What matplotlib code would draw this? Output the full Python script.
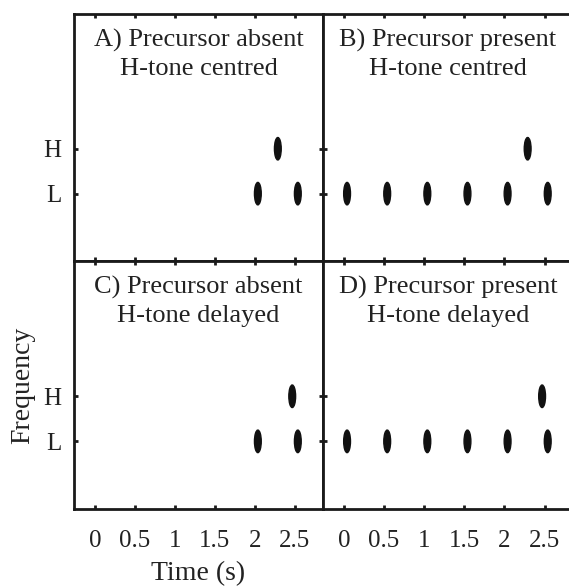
import matplotlib.pyplot as plt
from matplotlib.patches import Ellipse

plt.rcParams['font.family'] = ['Liberation Serif', 'DejaVu Serif']

# tone centres (s) for each panel
low_absent = [2.04, 2.54]
low_present = [0.04, 0.54, 1.04, 1.54, 2.04, 2.54]
high_centred = 2.29
high_delayed = 2.47

panels = [
    ('A) Precursor absent\nH-tone centred', low_absent, high_centred),
    ('B) Precursor present\nH-tone centred', low_present, high_centred),
    ('C) Precursor absent\nH-tone delayed', low_absent, high_delayed),
    ('D) Precursor present\nH-tone delayed', low_present, high_delayed),
]

xticks = [0, 0.5, 1, 1.5, 2, 2.5]
xticklabels = ['0', '0.5', '1', '1.5', '2', '2.5']
freq_levels = [1, 2]
freq_labels = ['L', 'H']

tone_dur = 0.085
tone_h = 0.5

W, H = 569, 588
fig = plt.figure(figsize=(W / 100, H / 100), dpi=100)

# axes boxes in pixels: left, top, right, bottom
boxes = [
    (74, 14, 323, 261), (323, 14, 573, 261),
    (74, 261, 323, 509), (323, 261, 573, 509),
]

for i, (title, lows, high) in enumerate(panels):
    l, t, r, b = boxes[i]
    ax = fig.add_axes([l / W, (H - b) / H, (r - l) / W, (b - t) / H])
    ax.set_xlim(-0.26, 2.855)
    ax.set_ylim(-0.5, 5)

    for x in lows:
        ax.add_patch(Ellipse((x, 1), tone_dur, tone_h, color='#111111'))
    ax.add_patch(Ellipse((high, 2), tone_dur, tone_h, color='#111111'))

    ax.text(0.5, 0.94, title, transform=ax.transAxes, ha='center', va='top',
            fontsize=19, color='#222222', linespacing=1.35)

    for s in ax.spines.values():
        s.set_linewidth(2.0)
        s.set_color('#1a1a1a')

    ax.set_xticks(xticks)
    ax.set_yticks(freq_levels)
    ax.tick_params(direction='in', length=3, width=2, top=True, right=True,
                   color='#1a1a1a', labelcolor='#222222', labelsize=18)
    ax.tick_params(axis='x', pad=15)
    ax.tick_params(axis='y', pad=9)

    if i == 2 or i == 3:
        ax.set_xticklabels(xticklabels)
    else:
        ax.set_xticklabels([])
    if i == 0 or i == 2:
        ax.set_yticklabels(freq_labels)
    else:
        ax.set_yticklabels([])

    if i == 2:
        ax.set_xlabel('Time (s)', fontsize=20, color='#222222', labelpad=7)
        ax.set_ylabel('Frequency', fontsize=20, color='#222222', labelpad=6)

fig.savefig('out.png', dpi=100)
